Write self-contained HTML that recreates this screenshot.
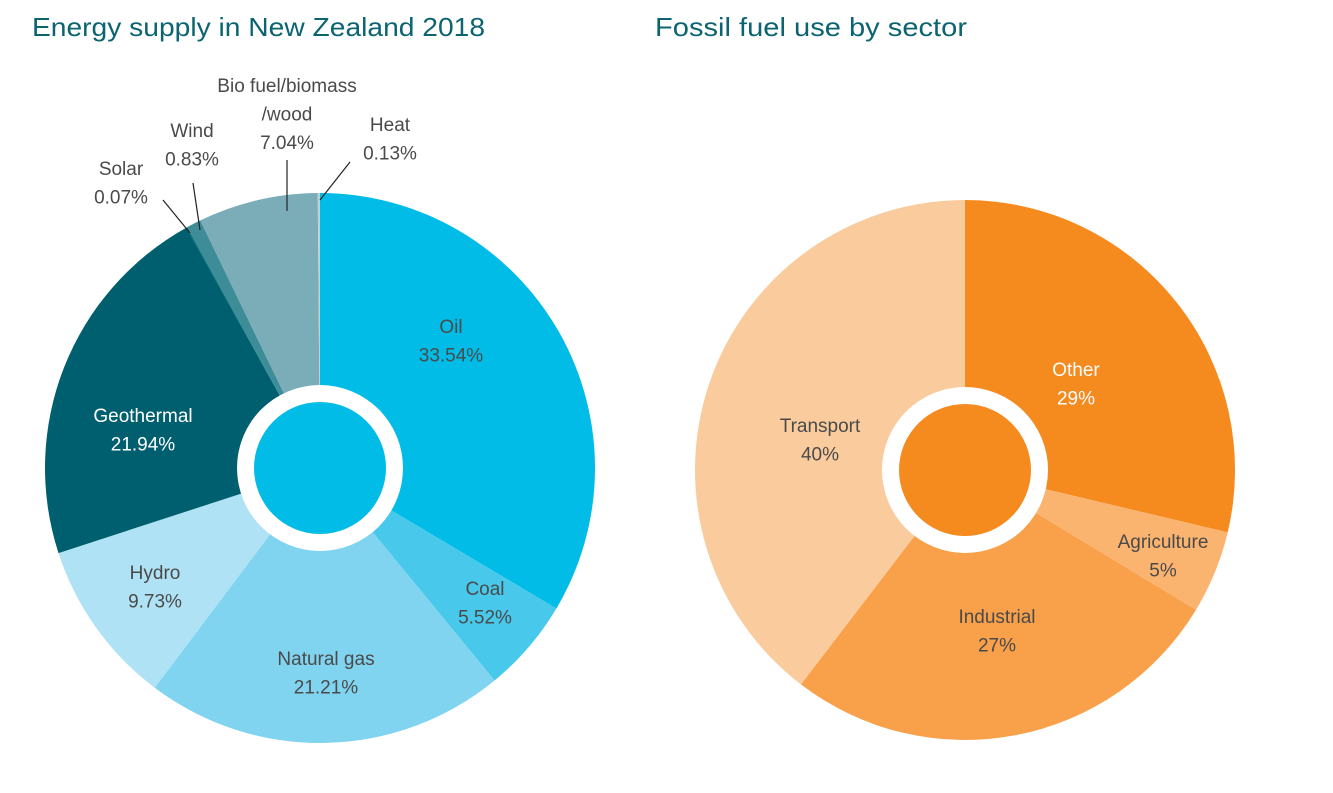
<!DOCTYPE html>
<html><head><meta charset="utf-8"><style>
html,body{margin:0;padding:0;background:#fff;}
svg{display:block;font-family:"Liberation Sans",sans-serif;}
</style></head><body>
<svg id="c" width="1333" height="793" viewBox="0 0 1333 793">
<text x="32" y="36" font-size="26" fill="#0c6470" textLength="453" lengthAdjust="spacingAndGlyphs">Energy supply in New Zealand 2018</text>
<text x="655" y="36" font-size="26" fill="#0c6470" textLength="312" lengthAdjust="spacingAndGlyphs">Fossil fuel use by sector</text>
<g id="left"></g>
<g id="right"></g>
<g id="leaders" stroke="#222" stroke-width="1.2">
<line x1="163" y1="200" x2="190" y2="233"/>
<line x1="193" y1="183" x2="200" y2="230"/>
<line x1="287" y1="160" x2="287" y2="211"/>
<line x1="350" y1="162" x2="320" y2="200"/>
</g>
<g id="labels" font-size="19" text-anchor="middle"></g>
</svg>
<script>
const energyCategories = ["Oil","Coal","Natural gas","Hydro","Geothermal","Solar","Wind","Bio fuel/biomass /wood","Heat"];
const energyValues = [33.54,5.52,21.21,9.73,21.94,0.07,0.83,7.04,0.13];
const energyLabels = ["33.54%","5.52%","21.21%","9.73%","21.94%","0.07%","0.83%","7.04%","0.13%"];
const fossilCategories = ["Other","Agriculture","Industrial","Transport"];
const fossilValues = [29,5,27,40];
const fossilLabels = ["29%","5%","27%","40%"];

const energyColors = ["#00bce6","#48c8eb","#80d4f0","#b0e2f5","#005f6e","#0a7a85","#3d8c98","#7badb8","#b8d3d9"];
const fossilColors = ["#f58a1f","#fbb46f","#f9a04a","#facc9d"];
const NS="http://www.w3.org/2000/svg";

function pt(cx,cy,r,a){return [cx+r*Math.sin(a), cy-r*Math.cos(a)];}
function drawPie(g,cats,vals,cols,cx,cy,r,prefix){
  const total=vals.reduce((s,v)=>s+v,0);
  let a=0;
  vals.forEach((v,i)=>{
    const a2=a+v/total*2*Math.PI;
    const p1=pt(cx,cy,r,a),p2=pt(cx,cy,r,a2);
    const large=(a2-a)>Math.PI?1:0;
    const p=document.createElementNS(NS,"path");
    p.setAttribute("d",`M${cx},${cy}L${p1[0]},${p1[1]}A${r},${r} 0 ${large} 1 ${p2[0]},${p2[1]}Z`);
    p.setAttribute("fill",cols[i]);
    
    
    g.appendChild(p);
    a=a2;
  });
  const ring=document.createElementNS(NS,"circle");
  ring.setAttribute("cx",cx);ring.setAttribute("cy",cy);ring.setAttribute("r",83);ring.setAttribute("fill","#fff");
  
  
  g.appendChild(ring);
  const inner=document.createElementNS(NS,"circle");
  inner.setAttribute("cx",cx);inner.setAttribute("cy",cy);inner.setAttribute("r",66);inner.setAttribute("fill",cols[0]);
  
  
  g.appendChild(inner);
}
drawPie(document.getElementById("left"),energyCategories,energyValues,energyColors,320,468,275,"energy");
drawPie(document.getElementById("right"),fossilCategories,fossilValues,fossilColors,965,470,270,"fossil");

const lg=document.getElementById("labels");
function label(x,y,lines,fill,name){
  lines.forEach((t,k)=>{
    const e=document.createElementNS(NS,"text");
    e.setAttribute("x",x);e.setAttribute("y",y+k*28.5);
    e.setAttribute("fill",fill|| "#4a4a4a");
    e.textContent=t;
    
    
    lg.appendChild(e);
  });
}
label(451,333,["Oil",energyLabels[0]],null,"oil-label");
label(485,595,["Coal",energyLabels[1]],null,"coal-label");
label(326,665,["Natural gas",energyLabels[2]],null,"natural-gas-label");
label(155,579,["Hydro",energyLabels[3]],null,"hydro-label");
label(143,422,["Geothermal",energyLabels[4]],"#fff","geothermal-label");
label(121,175,["Solar",energyLabels[5]],null,"solar-label");
label(192,137,["Wind",energyLabels[6]],null,"wind-label");
label(287,92,["Bio fuel/biomass","/wood",energyLabels[7]],null,"bio-label");
label(390,131,["Heat",energyLabels[8]],null,"heat-label");
label(1076,376,["Other",fossilLabels[0]],"#fff","other-label");
label(1163,548,["Agriculture",fossilLabels[1]],null,"agriculture-label");
label(997,623,["Industrial",fossilLabels[2]],null,"industrial-label");
label(820,432,["Transport",fossilLabels[3]],null,"transport-label");
</script>
</body></html>
